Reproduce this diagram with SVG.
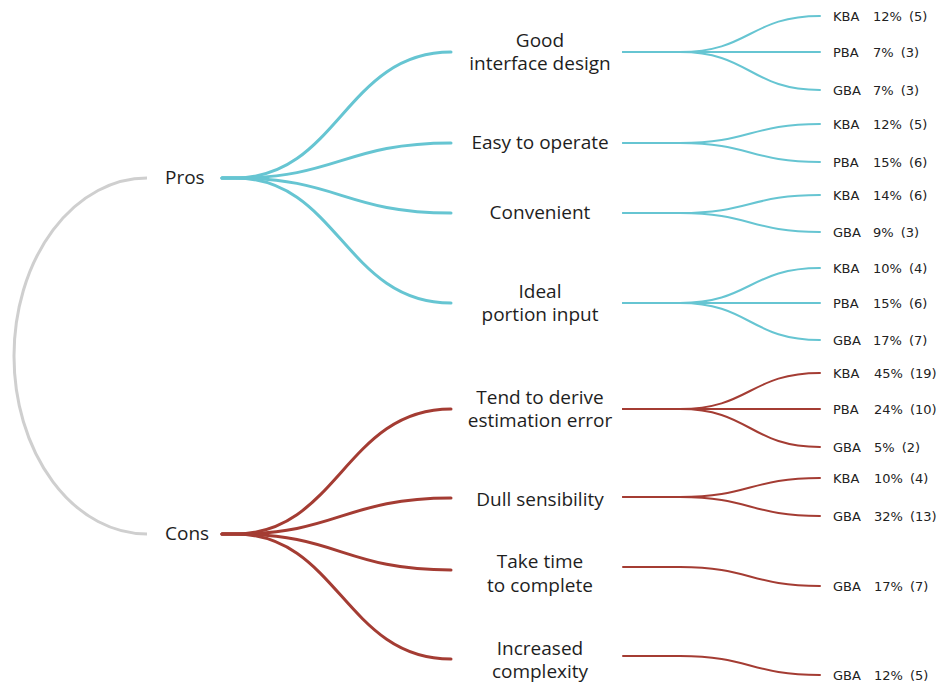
<svg xmlns="http://www.w3.org/2000/svg" width="939" height="684" viewBox="0 0 939 684">
<style>
.bg{fill:#ffffff}
.c{fill:none;stroke-linecap:round}
.pro{stroke:#66c5d2}
.con{stroke:#a43c33}
.main{stroke-width:3}
.leafl{stroke-width:2}
.arc{fill:none;stroke:#cfcfcf;stroke-width:3}
.n{font-family:"Open Sans","Noto Sans","DejaVu Sans",sans-serif;font-size:19px;fill:#1e1e1e;text-anchor:middle}
.r{font-family:"Open Sans","Noto Sans","DejaVu Sans",sans-serif;font-size:19px;fill:#1e1e1e}
.l{font-family:"DejaVu Sans","Liberation Sans",sans-serif;font-size:13px;fill:#222}
</style>
<rect class="bg" x="0" y="0" width="939" height="684"/>
<g id="connectors">
  <path class="arc" d="M147,178 A133,178 0 0 0 147,534"/>
  <g class="c pro main">
    <path d="M222,178 H235 C338,178 345,52 451,52"/>
    <path d="M222,178 H235 C338,178 345,143 451,143"/>
    <path d="M222,178 H235 C338,178 345,213 451,213"/>
    <path d="M222,178 H235 C338,178 345,303 451,303"/>
  </g>
  <g class="c con main">
    <path d="M222,534 H235 C338,534 345,409 451,409"/>
    <path d="M222,534 H235 C338,534 345,498 451,498"/>
    <path d="M222,534 H235 C338,534 345,570 451,570"/>
    <path d="M222,534 H235 C338,534 345,659 451,659"/>
  </g>
  <g class="c pro leafl">
    <path d="M623,52 H680 C750,52 750,16 820,16"/>
    <path d="M623,52 H820"/>
    <path d="M623,52 H680 C750,52 750,90 820,90"/>
    <path d="M623,143 H680 C750,143 750,124 820,124"/>
    <path d="M623,143 H680 C750,143 750,162 820,162"/>
    <path d="M623,213 H680 C750,213 750,195 820,195"/>
    <path d="M623,213 H680 C750,213 750,232 820,232"/>
    <path d="M623,303 H680 C750,303 750,268 820,268"/>
    <path d="M623,303 H820"/>
    <path d="M623,303 H680 C750,303 750,340 820,340"/>
  </g>
  <g class="c con leafl">
    <path d="M623,409 H680 C750,409 750,373 820,373"/>
    <path d="M623,409 H820"/>
    <path d="M623,409 H680 C750,409 750,447 820,447"/>
    <path d="M623,497 H680 C750,497 750,478 820,478"/>
    <path d="M623,497 H680 C750,497 750,516 820,516"/>
    <path d="M623,567 H680 C750,567 750,586 820,586"/>
    <path d="M623,656 H680 C750,656 750,675 820,675"/>
  </g>
</g>
<g id="pros"><text class="r" x="165" y="184">Pros</text></g>
<g id="cons"><text class="r" x="165" y="540">Cons</text></g>
<g id="good-interface"><text class="n" x="540" y="47"><tspan x="540">Good</tspan><tspan x="540" dy="23">interface design</tspan></text></g>
<g id="easy-operate"><text class="n" x="540" y="149">Easy to operate</text></g>
<g id="convenient"><text class="n" x="540" y="219">Convenient</text></g>
<g id="ideal-portion"><text class="n" x="540" y="298"><tspan x="540">Ideal</tspan><tspan x="540" dy="23">portion input</tspan></text></g>
<g id="tend-error"><text class="n" x="540" y="404"><tspan x="540">Tend to derive</tspan><tspan x="540" dy="23">estimation error</tspan></text></g>
<g id="dull"><text class="n" x="540" y="506">Dull sensibility</text></g>
<g id="take-time"><text class="n" x="540" y="568"><tspan x="540">Take time</tspan><tspan x="540" dy="24">to complete</tspan></text></g>
<g id="increased"><text class="n" x="540" y="655"><tspan x="540">Increased</tspan><tspan x="540" dy="23">complexity</tspan></text></g>
<g id="leaf-good-kba"><text class="l" y="21"><tspan x="833">KBA</tspan><tspan x="873">12%</tspan><tspan dx="7">(5)</tspan></text></g>
<g id="leaf-good-pba"><text class="l" y="57"><tspan x="833">PBA</tspan><tspan x="873">7%</tspan><tspan dx="7">(3)</tspan></text></g>
<g id="leaf-good-gba"><text class="l" y="95"><tspan x="833">GBA</tspan><tspan x="873">7%</tspan><tspan dx="7">(3)</tspan></text></g>
<g id="leaf-easy-kba"><text class="l" y="129"><tspan x="833">KBA</tspan><tspan x="873">12%</tspan><tspan dx="7">(5)</tspan></text></g>
<g id="leaf-easy-pba"><text class="l" y="167"><tspan x="833">PBA</tspan><tspan x="873">15%</tspan><tspan dx="7">(6)</tspan></text></g>
<g id="leaf-conv-kba"><text class="l" y="200"><tspan x="833">KBA</tspan><tspan x="873">14%</tspan><tspan dx="7">(6)</tspan></text></g>
<g id="leaf-conv-gba"><text class="l" y="237"><tspan x="833">GBA</tspan><tspan x="873">9%</tspan><tspan dx="7">(3)</tspan></text></g>
<g id="leaf-ideal-kba"><text class="l" y="273"><tspan x="833">KBA</tspan><tspan x="873">10%</tspan><tspan dx="7">(4)</tspan></text></g>
<g id="leaf-ideal-pba"><text class="l" y="308"><tspan x="833">PBA</tspan><tspan x="873">15%</tspan><tspan dx="7">(6)</tspan></text></g>
<g id="leaf-ideal-gba"><text class="l" y="345"><tspan x="833">GBA</tspan><tspan x="873">17%</tspan><tspan dx="7">(7)</tspan></text></g>
<g id="leaf-tend-kba"><text class="l" y="378"><tspan x="833">KBA</tspan><tspan x="874">45%</tspan><tspan dx="7">(19)</tspan></text></g>
<g id="leaf-tend-pba"><text class="l" y="414"><tspan x="833">PBA</tspan><tspan x="874">24%</tspan><tspan dx="7">(10)</tspan></text></g>
<g id="leaf-tend-gba"><text class="l" y="452"><tspan x="833">GBA</tspan><tspan x="874">5%</tspan><tspan dx="7">(2)</tspan></text></g>
<g id="leaf-dull-kba"><text class="l" y="483"><tspan x="833">KBA</tspan><tspan x="874">10%</tspan><tspan dx="7">(4)</tspan></text></g>
<g id="leaf-dull-gba"><text class="l" y="521"><tspan x="833">GBA</tspan><tspan x="874">32%</tspan><tspan dx="7">(13)</tspan></text></g>
<g id="leaf-take-gba"><text class="l" y="591"><tspan x="833">GBA</tspan><tspan x="874">17%</tspan><tspan dx="7">(7)</tspan></text></g>
<g id="leaf-incr-gba"><text class="l" y="680"><tspan x="833">GBA</tspan><tspan x="874">12%</tspan><tspan dx="7">(5)</tspan></text></g>
</svg>
